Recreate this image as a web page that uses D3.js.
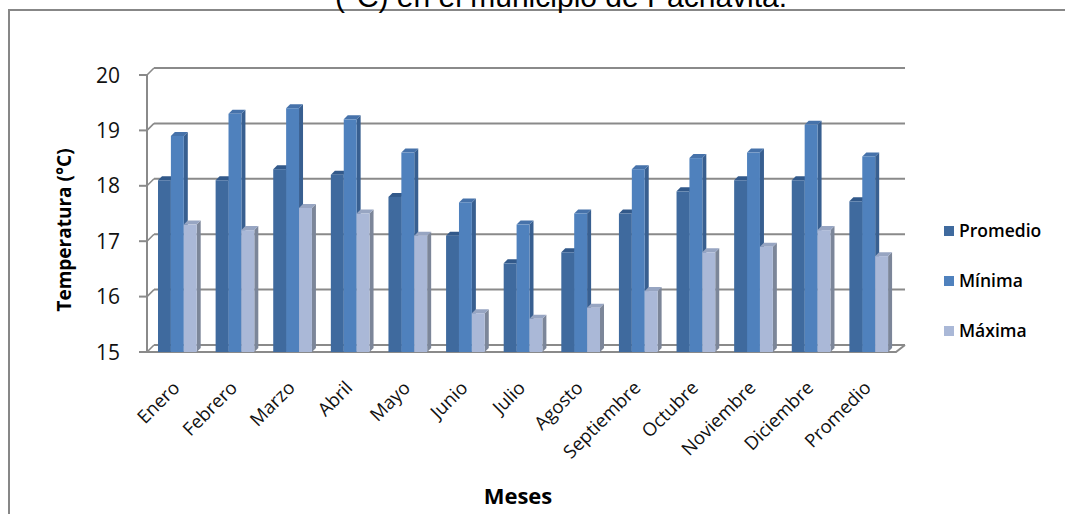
<!DOCTYPE html>
<html>
<head>
<meta charset="utf-8">
<script src="https://cdn.jsdelivr.net/npm/d3@7"></script>
<style>
  html, body { margin: 0; padding: 0; background: #fff; }
  svg { display: block; }
</style>
</head>
<body>
<svg id="chart" width="1065" height="514"></svg>
<script>
// Monthly temperatures (°C), Pachavita
const meses = ["Enero", "Febrero", "Marzo", "Abril", "Mayo", "Junio", "Julio",
  "Agosto", "Septiembre", "Octubre", "Noviembre", "Diciembre", "Promedio"];
const promedio = [18.1, 18.1, 18.3, 18.2, 17.8, 17.1, 16.6, 16.8, 17.5, 17.9, 18.1, 18.1, 17.72];
const minima   = [18.9, 19.3, 19.4, 19.2, 18.6, 17.7, 17.3, 17.5, 18.3, 18.5, 18.6, 19.1, 18.53];
const maxima   = [17.3, 17.2, 17.6, 17.5, 17.1, 15.7, 15.6, 15.8, 16.1, 16.8, 16.9, 17.2, 16.73];
const seriesNames = ["Promedio", "Mínima", "Máxima"];
const yTicks = [15, 16, 17, 18, 19, 20];

const seriesValues = [promedio, minima, maxima];
// front, side and top face colours per series
const faceColors = [
  { front: "#3f6a9e", side: "#2c4e78", top: "#32598a" },
  { front: "#4f81bd", side: "#385f90", top: "#4672aa" },
  { front: "#aab8d7", side: "#7c8699", top: "#97a5c2" }
];

const svg = d3.select("#chart");
const font = "'Open Sans', 'DejaVu Sans', sans-serif";

// outer frame
svg.append("rect")
  .attr("x", 9).attr("y", 10).attr("width", 1080).attr("height", 530)
  .attr("fill", "none").attr("stroke", "#878787").attr("stroke-width", 2);

// title (second line)
svg.append("text")
  .attr("x", 561).attr("y", 6.5)
  .attr("text-anchor", "middle")
  .attr("font-family", "'Liberation Sans', Arial, sans-serif")
  .attr("font-size", 30)
  .attr("fill", "#000")
  .text("(°C) en el municipio de Pachavita.");

// plot geometry
const axisX = 147, axisRight = 896;
const depth = 7;            // wall depth offset
const barDepth = 4;         // bar side depth
const y = d3.scaleLinear().domain([15, 20]).range([352, 75]);
const x0 = d3.scaleBand().domain(meses).range([axisX, axisRight]).padding(0);
const x1 = d3.scaleBand().domain(seriesNames).range([11, 49.7]).padding(0);

const grid = svg.append("g");
const gridColor = "#8a8a8a";

// back-wall gridlines
grid.selectAll("line.gl").data(yTicks).join("line")
  .attr("class", "gl")
  .attr("x1", axisX + depth).attr("x2", axisRight + 9)
  .attr("y1", d => y(d) - depth).attr("y2", d => y(d) - depth)
  .attr("stroke", gridColor).attr("stroke-width", 2);

// side-wall connectors from the axis to the back wall
grid.selectAll("line.conn").data(yTicks).join("line")
  .attr("class", "conn")
  .attr("x1", axisX).attr("x2", axisX + depth)
  .attr("y1", d => y(d)).attr("y2", d => y(d) - depth)
  .attr("stroke", gridColor).attr("stroke-width", 1.6);

// floor front edge and right edge
grid.append("path")
  .attr("d", `M${axisX},${y(15)} L${axisRight},${y(15)} L${axisRight + 9},${y(15) - depth}`)
  .attr("fill", "none").attr("stroke", gridColor).attr("stroke-width", 2);

// value axis
grid.append("line")
  .attr("x1", axisX).attr("x2", axisX)
  .attr("y1", y(20)).attr("y2", y(15))
  .attr("stroke", gridColor).attr("stroke-width", 2);
grid.selectAll("line.tick").data(yTicks).join("line")
  .attr("class", "tick")
  .attr("x1", axisX - 8).attr("x2", axisX)
  .attr("y1", d => y(d)).attr("y2", d => y(d))
  .attr("stroke", gridColor).attr("stroke-width", 2);

svg.selectAll("text.ytick").data(yTicks).join("text")
  .attr("class", "ytick")
  .attr("x", 120).attr("y", d => y(d))
  .attr("dy", "0.36em")
  .attr("text-anchor", "end")
  .attr("font-family", font).attr("font-size", 21)
  .attr("fill", "#111")
  .text(d => d);

// bars
const bars = [];
meses.forEach((m, i) => {
  seriesNames.forEach((s, j) => {
    bars.push({ mes: m, serie: s, j: j, value: seriesValues[j][i] });
  });
});

const barG = svg.append("g");
bars.forEach(b => {
  const xl = x0(b.mes) + x1(b.serie);
  const xr = xl + x1.bandwidth();
  const yt = y(b.value);
  const yb = y(15);
  const c = faceColors[b.j];
  const g = barG.append("g");
  g.append("path")
    .attr("d", `M${xr},${yt} L${xr + barDepth},${yt - barDepth} L${xr + barDepth},${yb - barDepth} L${xr},${yb} Z`)
    .attr("fill", c.side);
  g.append("path")
    .attr("d", `M${xl},${yt} L${xl + barDepth},${yt - barDepth} L${xr + barDepth},${yt - barDepth} L${xr},${yt} Z`)
    .attr("fill", c.top);
  g.append("rect")
    .attr("x", xl).attr("y", yt)
    .attr("width", x1.bandwidth()).attr("height", yb - yt)
    .attr("fill", c.front);
});

// category labels
svg.selectAll("text.xlab").data(meses).join("text")
  .attr("class", "xlab")
  .attr("transform", d => `translate(${x0(d) + x0.bandwidth() / 2 + 5},${389}) rotate(-45)`)
  .attr("text-anchor", "end")
  .attr("font-family", font).attr("font-size", 18.5)
  .attr("fill", "#111")
  .text(d => d);

// axis titles
svg.append("text")
  .attr("transform", "translate(71,230) rotate(-90)")
  .attr("text-anchor", "middle")
  .attr("font-family", font).attr("font-size", 19).attr("font-weight", 700)
  .attr("fill", "#000")
  .text("Temperatura (°C)");

svg.append("text")
  .attr("x", 518).attr("y", 504)
  .attr("text-anchor", "middle")
  .attr("font-family", font).attr("font-size", 22).attr("font-weight", 700)
  .attr("fill", "#000")
  .text("Meses");

// legend
const legend = svg.append("g");
const legendY = d3.scalePoint().domain(seriesNames).range([231, 331]);
seriesNames.forEach((s, j) => {
  legend.append("rect")
    .attr("x", 944).attr("y", legendY(s) - 5)
    .attr("width", 10).attr("height", 10)
    .attr("fill", faceColors[j].front);
  legend.append("text")
    .attr("x", 959).attr("y", legendY(s))
    .attr("dy", "0.36em")
    .attr("font-family", font).attr("font-size", 17.5).attr("font-weight", 600)
    .attr("fill", "#000")
    .text(s);
});
</script>
</body>
</html>
